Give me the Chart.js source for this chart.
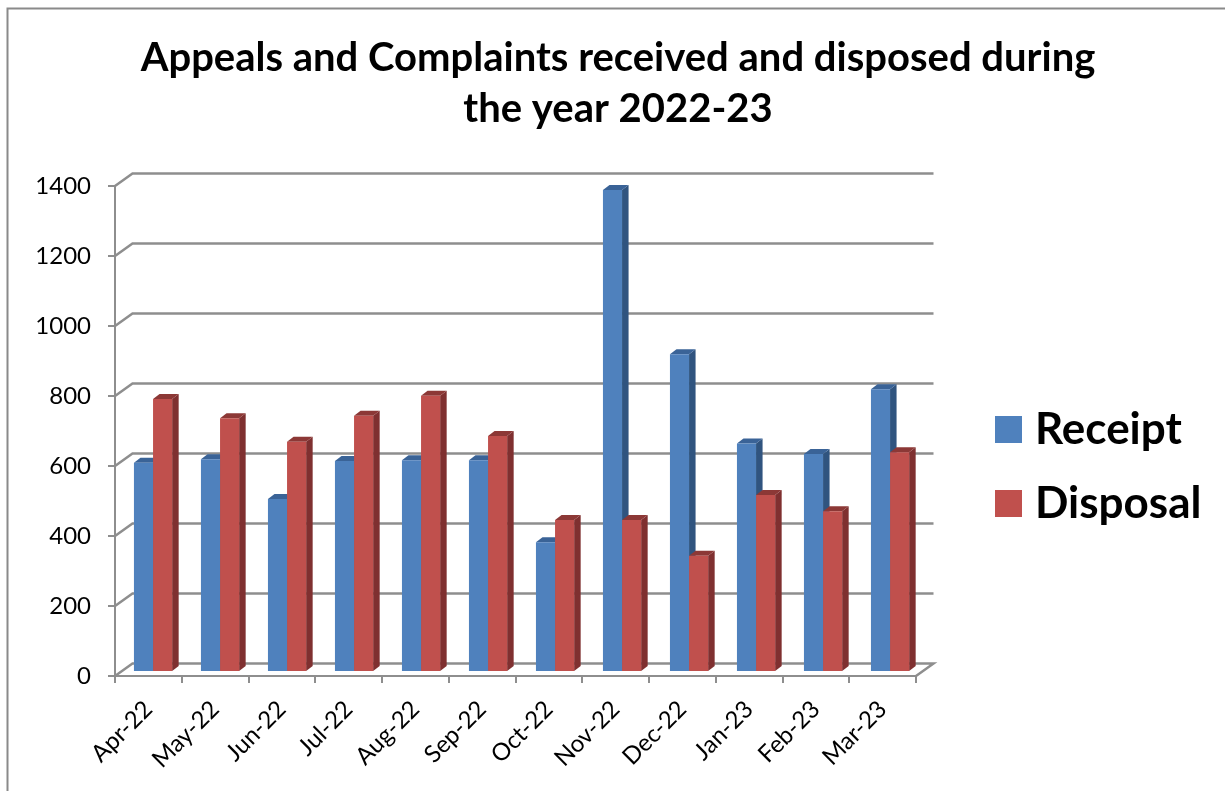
<!DOCTYPE html>
<html><head><meta charset="utf-8">
<style>html,body{margin:0;padding:0;background:#fff;overflow:hidden}canvas{display:block}</style>
<script src="https://cdn.jsdelivr.net/npm/chart.js@4"></script>
</head><body><canvas id="c" width="1225" height="791"></canvas>
<script>
const titleLines = ['Appeals and Complaints received and disposed during', 'the year 2022-23'];
const categories = ['Apr-22','May-22','Jun-22','Jul-22','Aug-22','Sep-22','Oct-22','Nov-22','Dec-22','Jan-23','Feb-23','Mar-23'];
const receipt = [598,608,494,603,605,605,371,1377,908,653,623,808];
const disposal = [780,725,658,732,789,674,434,434,332,506,459,628];

const FONT = 'Lato, Carlito, sans-serif';
const GRID = '#8e8e8e';
const WALL = {dx: 17.5, dy: -12.5};
const BAR_SHIFT = {dx: 4.6, dy: -4, stretch: 1.00375, pivot: 130};
const DEPTH = {dx: 6.5, dy: -5};
const SHADES = [{side:'#30547F', top:'#3A6397'}, {side:'#7F3030', top:'#8C3836'}];
const layoutBox = {left: 12, right: 50};

const depthPlugin = {
  id: 'depth',
  beforeDraw(chart) {
    const {ctx, width, height} = chart;
    ctx.save();
    ctx.fillStyle = '#fff'; ctx.fillRect(0, 0, width, height);
    ctx.strokeStyle = '#8a8a8a'; ctx.lineWidth = 2;
    ctx.beginPath(); ctx.moveTo(7.5, height); ctx.lineTo(7.5, 8.5); ctx.lineTo(width, 8.5); ctx.stroke();
    ctx.restore();
  },
  beforeDatasetsDraw(chart) {
    const {ctx, scales: {x, y}} = chart;
    ctx.save();
    ctx.strokeStyle = GRID; ctx.lineWidth = 2.5;
    y.ticks.forEach(t => {
      const py = y.getPixelForValue(t.value);
      ctx.beginPath();
      ctx.moveTo(x.left, py);
      ctx.lineTo(x.left + WALL.dx, py + WALL.dy);
      ctx.lineTo(x.right + WALL.dx, py + WALL.dy);
      if (t.value === 0) ctx.lineTo(x.right, py);
      ctx.stroke();
    });
    ctx.restore();
    ctx.save();
    ctx.translate(BAR_SHIFT.dx + BAR_SHIFT.pivot, BAR_SHIFT.dy);
    ctx.scale(BAR_SHIFT.stretch, 1);
    ctx.translate(-BAR_SHIFT.pivot, 0);
    [0, 1].forEach(i => {
      const shade = SHADES[i];
      chart.getDatasetMeta(i).data.forEach(bar => {
        const r = bar.x + bar.width / 2, l = bar.x - bar.width / 2;
        const t = bar.y, b = bar.base;
        ctx.fillStyle = shade.side;
        ctx.beginPath();
        ctx.moveTo(r, t); ctx.lineTo(r + DEPTH.dx, t + DEPTH.dy);
        ctx.lineTo(r + DEPTH.dx, b + DEPTH.dy); ctx.lineTo(r, b); ctx.closePath(); ctx.fill();
        ctx.fillStyle = shade.top;
        ctx.beginPath();
        ctx.moveTo(l, t); ctx.lineTo(l + DEPTH.dx, t + DEPTH.dy);
        ctx.lineTo(r + DEPTH.dx, t + DEPTH.dy); ctx.lineTo(r, t); ctx.closePath(); ctx.fill();
      });
    });
  },
  afterDatasetsDraw(chart) { chart.ctx.restore(); },
  afterLayout(chart) {
    const lg = chart.legend;
    const h = lg.height;
    lg.left = 1004 - lg.options.labels.padding;
    lg.right = lg.left + lg.width;
    lg.top = 377.5;
    lg.bottom = lg.top + h;
    chart.titleBlock.left = 0;
    chart.titleBlock.right = 1236;
  }
};

const chart = new Chart(document.getElementById('c'), {
  type: 'bar',
  data: {
    labels: categories,
    datasets: [
      {label: 'Receipt', data: receipt, backgroundColor: '#4F81BD', clip: false},
      {label: 'Disposal', data: disposal, backgroundColor: '#C0504D', clip: false}
    ]
  },
  plugins: [depthPlugin],
  options: {
    responsive: false,
    animation: false,
    events: [],
    datasets: {bar: {categoryPercentage: 0.57, barPercentage: 1}},
    layout: {padding: {left: layoutBox.left, right: layoutBox.right, top: 0, bottom: 0}},
    scales: {
      x: {
        afterFit(s) { s.height = 115; },
        grid: {drawOnChartArea: false, drawTicks: true, tickLength: 7, color: GRID, lineWidth: 2},
        border: {color: GRID, width: 2},
        ticks: {autoSkip: false, minRotation: 45, maxRotation: 45, color: '#000', padding: 12, font: {family: FONT, size: 24}}
      },
      y: {
        min: 0, max: 1400,
        afterFit(s) { s.width = 115 - layoutBox.left; },
        grid: {drawOnChartArea: false, drawTicks: true, tickLength: 7, color: GRID, lineWidth: 2},
        border: {color: GRID, width: 2},
        ticks: {stepSize: 200, color: '#000', padding: 17, font: {family: FONT, size: 24}, callback: v => String(v)}
      }
    },
    plugins: {
      tooltip: {enabled: false},
      title: {
        display: true, text: titleLines, color: '#000',
        font: {family: FONT, size: 40, weight: 'bold', lineHeight: '51px'},
        padding: {top: 32.5, bottom: 51.5}
      },
      legend: {
        position: 'right', align: 'start',
        labels: {
          boxWidth: 9, boxHeight: 9, padding: 30, color: '#000',
          font: {family: FONT, size: 44, weight: 'bold'},
          generateLabels(c) {
            return Chart.defaults.plugins.legend.labels.generateLabels(c).map((it, i) => {
              const col = c.data.datasets[i].backgroundColor;
              return Object.assign(it, {fillStyle: col, strokeStyle: col, lineWidth: 18, lineJoin: 'miter', lineCap: 'butt'});
            });
          }
        }
      }
    }
  }
});
layoutBox.right = 309 - chart.legend.width;
chart.options.layout.padding.right = layoutBox.right;
chart.update('none');
</script></body></html>
